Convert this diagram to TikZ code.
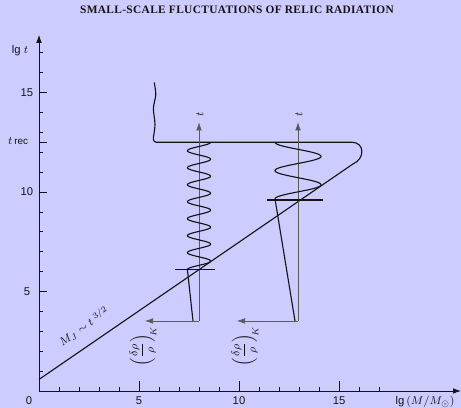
\documentclass[tikz,border=0pt]{standalone}
\usepackage{fontspec}
\setmainfont{Liberation Serif}
\setsansfont{Liberation Sans}
\usetikzlibrary{arrows.meta}
\definecolor{Lilac}{RGB}{204,204,255}
\definecolor{Ink}{HTML}{141414}

\begin{document}
\begin{tikzpicture}[
  x=0.5cm,y=0.4975cm,>={Latex[length=2mm,width=1.4mm]},
  axisline/.style={->,line width=.6pt,draw=Ink},
  ticmark/.style={line width=.5pt,draw=Ink},
  heavy/.style={line width=.8pt,draw=Ink,line join=round},
  probe/.style={->,line width=.45pt,draw=Ink!70},
  numlab/.style={font=\fontsize{8}{9}\sffamily,text=Ink,inner sep=1pt},
  fluct/.style={font=\fontsize{8}{9}\selectfont,text=Ink,rotate=90,inner sep=1pt}
]
\fill[Lilac] (-1.95,-0.854) rectangle (21.1,19.648);
\useasboundingbox (-1.95,-0.854) rectangle (21.1,19.648);
\node[font=\fontsize{8.1}{9}\selectfont\bfseries\addfontfeature{LetterSpace=3},text=Ink]
  (title) at (9.9,19.15) {SMALL-SCALE FLUCTUATIONS OF RELIC RADIATION};
% axes and their scales
\coordinate (O) at (0,0);
\coordinate (ytop) at (0,17.9);
\coordinate (xend) at (21.1,0);
\draw[axisline] (O)--(ytop);
\draw[axisline] (O)--(xend);
\foreach \k in {1,...,17}{
  \draw[ticmark] (\k,0)--++(0,.22);
  \draw[ticmark] (0,\k)--++(.22,0);
}
\foreach \k in {5,10,15}{
  \draw[ticmark] (\k,0)--++(0,.5);
  \draw[ticmark] (0,\k)--++(.42,0);
  \node[numlab] (x\k) at (\k,-.5) {\k};
  \node[numlab] (y\k) at (-.6,\k) {\k};
}
\draw[ticmark] (0,12.5)--++(.42,0);
\node[numlab] (x0) at (-.5,-.5) {0};
\node[numlab] (ylab) at (-.95,17.1) {lg $t$};
\node[numlab] (trec) at (-1.05,12.55) {$t$\,{\fontsize{7}{8}\selectfont rec}};
\node[numlab] (xlab) at (19.3,-.55) {lg$\,(M/M_{\odot})$};
% Jeans mass line
\coordinate (jeans0) at (0,.58);
\coordinate (jeans1) at (15.7,11.41);
\draw[heavy] (jeans0)--(jeans1);
\node[font=\fontsize{8}{9}\selectfont,text=Ink,rotate=34.6] (mj) at (2.25,3.25)
  {$M_J\sim t^{\;3/2}$};
% recombination edge, closed round the right end onto the Jeans line
\draw[heavy] plot[smooth] coordinates {(5.76,15.5) (5.84,14.9) (5.72,14.2) (5.8,13.4) (5.72,12.75)}
  [rounded corners=2pt]--(5.72,12.5)--(15.5,12.5)
  .. controls (16.3,12.5) and (16.3,11.65) .. (jeans1);
% the two scales: short wave and long wave
\coordinate (lfoot) at (8,3.52);
\coordinate (ltip) at (8,13.5);
\coordinate (lhead) at (5.3,3.52);
\coordinate (rfoot) at (12.95,3.52);
\coordinate (rtip) at (12.95,13.5);
\coordinate (rhead) at (9.9,3.52);
\draw[probe] (lfoot)--(ltip);
\draw[probe] (lfoot)--(lhead);
\draw[probe] (rfoot)--(rtip);
\draw[probe] (rfoot)--(rhead);
\draw[heavy] (7.7,3.52)--plot[domain=0:1,samples=260,smooth]
  ({8-0.58*cos(2700*\x)},{6.1+6.4*\x});
\draw[heavy] (12.8,3.52)--plot[domain=1:0,samples=200,smooth]
  ({12.95-1.15*cos(720*\x)},{12.5-2.85*\x});
\draw[heavy] (6.8,6.1)--(8.8,6.1);
\draw[heavy] (11.4,9.6)--(14.2,9.6);
\node[numlab,rotate=90] (tl) at (8.05,13.9) {$t$};
\node[numlab,rotate=90] (tr) at (13,13.9) {$t$};
\node[fluct] (kl) at (5.2,2.25) {$\displaystyle\left(\frac{\delta\rho}{\rho}\right)_{\!K}$};
\node[fluct] (kr) at (10.3,2.25) {$\displaystyle\left(\frac{\delta\rho}{\rho}\right)_{\!K}$};
\end{tikzpicture}
\end{document}
